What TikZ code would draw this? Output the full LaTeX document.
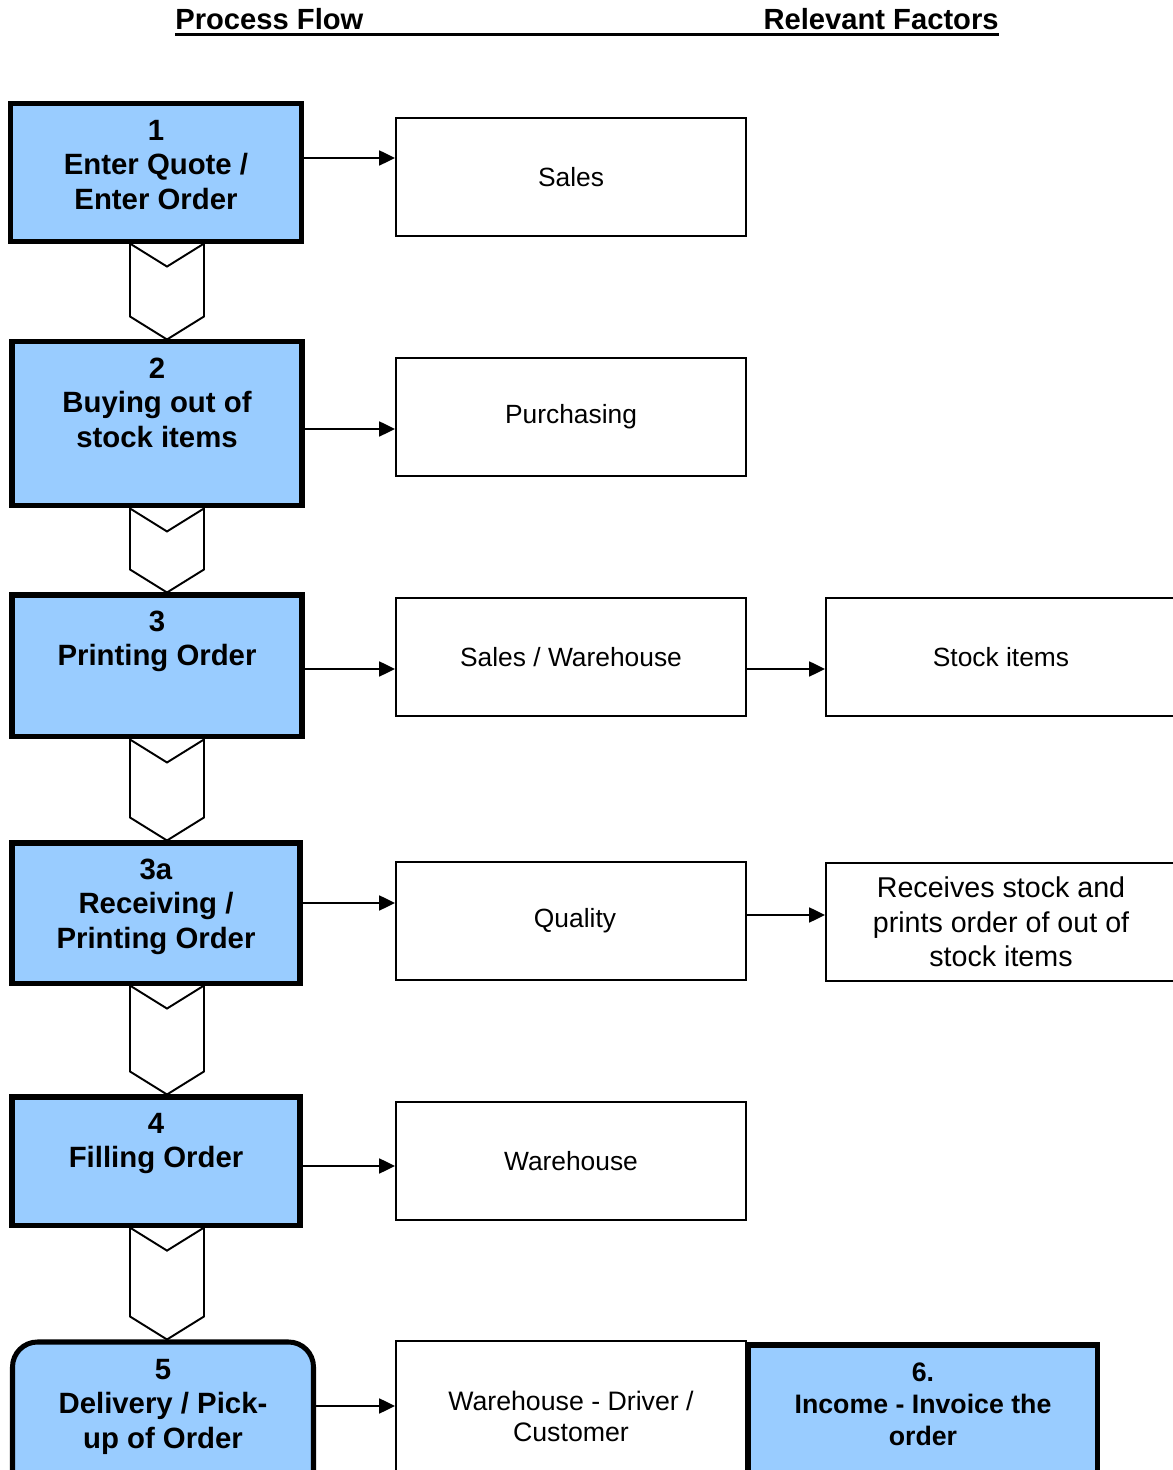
\documentclass[tikz,border=0pt]{standalone}
\usepackage{fontspec}
\setmainfont{Liberation Sans}
\usetikzlibrary{arrows.meta,calc}
\definecolor{stageblue}{HTML}{99CCFF}

\begin{document}
\begin{tikzpicture}[
  >={Triangle[length=9pt,width=8.5pt]},
  stage/.style={draw=black,line width=2.85pt,fill=stageblue,align=center,inner sep=0pt,
                font=\fontsize{16.7}{19.6}\selectfont\bfseries,anchor=north},
  factor/.style={draw=black,line width=1.1pt,fill=white,align=center,inner sep=0pt,
                 minimum width=7cm,minimum height=2.36cm,font=\fontsize{15}{19.6}\selectfont},
  head/.style={font=\fontsize{16.6}{20}\selectfont\bfseries,inner sep=0pt},
  arr/.style={->,line width=1.1pt},
  chev/.style={draw=black,line width=1.1pt,line join=miter},
]
\useasboundingbox (0,0) rectangle (23.46,29.4);
\clip (0,0) rectangle (23.46,29.4);

% ---- headings ----
\node[head,anchor=base west] (HPF) at (3.5,28.8) {Process Flow};
\node[head,anchor=base east] (HRF) at (19.98,28.8) {Relevant Factors};
\draw[line width=1.7pt] ([yshift=-0.1cm]HPF.base west) -- ([yshift=-0.1cm]HRF.base east);

% ---- process flow ----
\node[stage,minimum width=5.82cm,text height=59.8pt,text depth=18.2pt] (ST1) at (3.12,27.37)
  {1\\Enter Quote /\\Enter Order};
\node[stage,minimum width=5.8cm,text height=59.8pt,text depth=33.5pt] (ST2) at (3.14,22.61)
  {2\\Buying out of\\stock items};
\node[stage,minimum width=5.8cm,text height=40.2pt,text depth=40.6pt] (ST3) at (3.14,17.55)
  {3\\Printing Order};
\node[stage,minimum width=5.76cm,text height=59.8pt,text depth=19.9pt] (ST3a) at (3.12,12.59)
  {3a\\Receiving /\\Printing Order};
\node[stage,minimum width=5.76cm,text height=40.2pt,text depth=32.7pt] (ST4) at (3.12,7.51)
  {4\\Filling Order};
\node[stage,rounded corners=0.5cm,minimum width=6.02cm,text height=60.4pt,text depth=30.7pt] (ST5)
  at (3.26,2.61) {5\\Delivery / Pick-\\up of Order};
\foreach \a/\b in {ST1/ST2,ST2/ST3,ST3/ST3a,ST3a/ST4,ST4/ST5}
  \draw[chev] (\a.south -| 2.6,0) -- ++(0.74,-0.46) -- ++(0.74,0.46)
    -- ($(\b.north -| 4.08,0)+(0,0.46)$) -- (\b.north -| 3.34,0)
    -- ($(\b.north -| 2.6,0)+(0,0.46)$) -- cycle;

% ---- relevant factors ----
\node[factor] (SAL) at (11.42,25.86) {Sales};
\node[factor] (PUR) at (11.42,21.06) {Purchasing};
\node[factor] (SW) at (11.42,16.26) {Sales / Warehouse};
\node[factor] (STK) at (20.02,16.26) {Stock items};
\node[factor] (QUA) at (11.42,10.98) {\hspace{0.16cm}Quality};
\node[factor,font=\fontsize{16.3}{19.6}\selectfont] (REC) at (20.02,10.96)
  {Receives stock and\\prints order of out of\\stock items};
\node[factor] (WH) at (11.42,6.18) {Warehouse};
\node[factor,minimum height=3cm,font=\fontsize{15.2}{17.6}\selectfont] (WDC) at (11.42,1.08)
  {Warehouse - Driver /\\Customer};
\node[stage,minimum width=6.98cm,text height=57pt,text depth=32.6pt,
      font=\fontsize{15.2}{18.2}\selectfont\bfseries] (INV) at (18.46,2.55)
  {6.\\Income - Invoice the\\order};

% ---- arrows ----
\draw[arr] ($(ST1.east |- SAL.west)+(0,0.38)$) -- ([yshift=0.38cm]SAL.west);
\draw[arr] ($(ST2.east |- PUR.west)+(0,-0.24)$) -- ([yshift=-0.24cm]PUR.west);
\draw[arr] ($(ST3.east |- SW.west)+(0,-0.24)$) -- ([yshift=-0.24cm]SW.west);
\draw[arr] ([yshift=-0.24cm]SW.east) -- ([yshift=-0.24cm]STK.west);
\draw[arr] ($(ST3a.east |- QUA.west)+(0,0.36)$) -- ([yshift=0.36cm]QUA.west);
\draw[arr] ($(QUA.east |- REC.west)+(0,0.14)$) -- ([yshift=0.14cm]REC.west);
\draw[arr] ($(ST4.east |- WH.west)+(0,-0.1)$) -- ([yshift=-0.1cm]WH.west);
\draw[arr] ($(ST5.east |- WDC.west)+(0,0.2)$) -- ([yshift=0.2cm]WDC.west);
\end{tikzpicture}
\end{document}
